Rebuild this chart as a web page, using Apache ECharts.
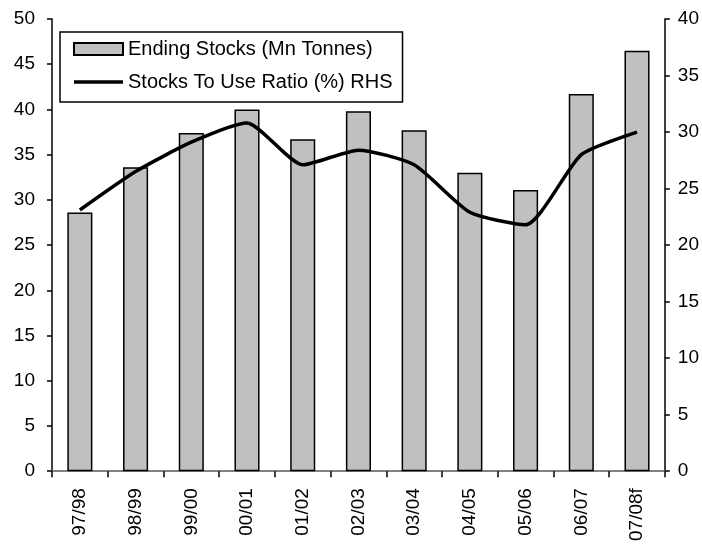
<!DOCTYPE html>
<html>
<head>
<meta charset="utf-8">
<script src="https://cdn.jsdelivr.net/npm/echarts@6/dist/echarts.min.js"></script>
<style>html,body{margin:0;padding:0;background:#fff;}#main{width:702px;height:544px;}</style>
</head>
<body>
<div id="main"></div>
<script>
var categories = ['97/98','98/99','99/00','00/01','01/02','02/03','03/04','04/05','05/06','06/07','07/08f'];
var endingStocks = [28.6, 33.6, 37.4, 40.0, 36.7, 39.8, 37.7, 33.0, 31.1, 41.7, 46.5];
var stocksToUse = [23.1, 26.5, 29.1, 30.8, 27.1, 28.4, 27.1, 22.9, 21.8, 28.0, 30.0];
var leftTicks = {min: 0, max: 50, interval: 5};
var rightTicks = {min: 0, max: 40, interval: 5};

var FONT = '"Liberation Sans", Arial, sans-serif';
var chart = echarts.init(document.getElementById('main'), null, {renderer: 'canvas'});
chart.setOption({
  animation: false,
  backgroundColor: '#fff',
  textStyle: {fontFamily: FONT},
  grid: {left: 52, right: 37, top: 19, bottom: 72, containLabel: false},
  legend: {
    left: 60, top: 32, orient: 'vertical',
    backgroundColor: '#fff',
    borderColor: '#000', borderWidth: 1.5, borderRadius: 0,
    padding: [7, 10, 10, 13],
    itemWidth: 49, itemHeight: 12, itemGap: 13,
    symbolKeepAspect: true,
    textStyle: {fontFamily: FONT, fontSize: 20, color: '#000', lineHeight: 20},
    data: [
      {name: 'Ending Stocks (Mn Tonnes)', icon: 'rect'},
      {name: 'Stocks To Use Ratio (%) RHS', icon: 'path://M0,0L49,0L49,3.5L0,3.5Z', itemStyle: {color: '#000'}}
    ]
  },
  xAxis: [{
    type: 'category', data: categories, position: 'bottom',
    axisLine: {lineStyle: {color: '#000', width: 1.5}},
    axisTick: {show: true, length: 6, alignWithLabel: false, lineStyle: {color: '#000', width: 1.5}},
    axisLabel: {rotate: 90, margin: 17, fontSize: 19, color: '#000', fontFamily: FONT, interval: 0},
    splitLine: {show: false}
  }, {
    type: 'category', data: categories, position: 'top',
    axisLine: {lineStyle: {color: '#999', width: 1.5}},
    axisTick: {show: false}, axisLabel: {show: false}, splitLine: {show: false}
  }],
  yAxis: [{
    type: 'value', min: leftTicks.min, max: leftTicks.max, interval: leftTicks.interval, position: 'left',
    axisLine: {show: true, lineStyle: {color: '#000', width: 1.5}},
    axisTick: {show: true, length: 5, lineStyle: {color: '#000', width: 1.5}},
    axisLabel: {margin: 17, fontSize: 19, color: '#000', fontFamily: FONT},
    splitLine: {show: false}
  }, {
    type: 'value', min: rightTicks.min, max: rightTicks.max, interval: rightTicks.interval, position: 'right',
    axisLine: {show: true, lineStyle: {color: '#000', width: 1.5}},
    axisTick: {show: true, length: 5, lineStyle: {color: '#000', width: 1.5}},
    axisLabel: {margin: 13, fontSize: 19, color: '#000', fontFamily: FONT},
    splitLine: {show: false}
  }],
  series: [{
    name: 'Ending Stocks (Mn Tonnes)', type: 'bar', data: endingStocks,
    xAxisIndex: 0, yAxisIndex: 0, barWidth: '45%',
    itemStyle: {color: '#c0c0c0', borderColor: '#000', borderWidth: 1.5}
  }, {
    name: 'Stocks To Use Ratio (%) RHS', type: 'line', data: stocksToUse,
    xAxisIndex: 0, yAxisIndex: 1, symbol: 'none', smooth: 0.2,
    itemStyle: {color: '#000'},
    lineStyle: {color: '#000', width: 3.5}
  }]
});
</script>
</body>
</html>
